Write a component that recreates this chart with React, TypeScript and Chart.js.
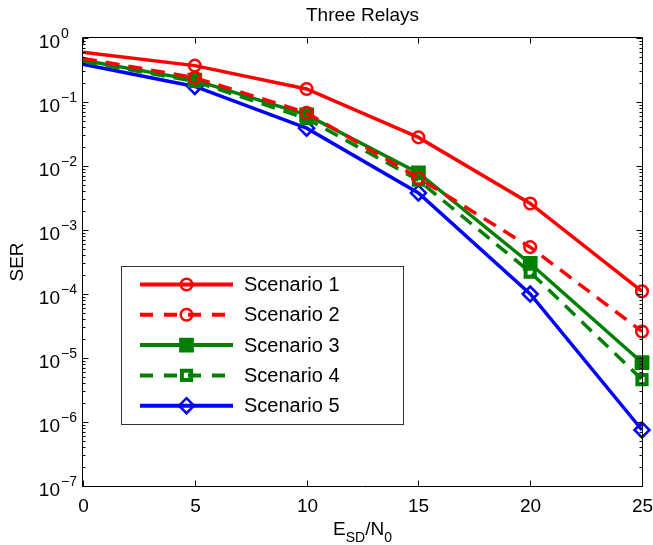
import React, { useEffect, useRef } from 'react';
import { Chart, registerables } from 'chart.js';

Chart.register(...registerables);

// ---- data ----
const snrDb = [0, 5, 10, 15, 20, 25];
const scenario1 = [0.6, 0.37, 0.16, 0.028, 0.0026, 1.1e-4];
const scenario2 = [0.48, 0.24, 0.068, 0.0065, 5.4e-4, 2.6e-5];
const scenario3 = [0.45, 0.22, 0.063, 0.0078, 3.0e-4, 8.5e-6];
const scenario4 = [0.43, 0.21, 0.055, 0.006, 2.2e-4, 4.6e-6];
const scenario5 = [0.39, 0.175, 0.039, 0.0038, 1.0e-4, 7.5e-7];
const seriesNames = ['Scenario 1', 'Scenario 2', 'Scenario 3', 'Scenario 4', 'Scenario 5'];
const xTickValues = [0, 5, 10, 15, 20, 25];
const yExponents = [0, -1, -2, -3, -4, -5, -6, -7];
const titleText = 'Three Relays';
const yLabelText = 'SER';

const FONT = '"Liberation Sans", Arial, Helvetica, sans-serif';
const RED = '#ff0000';
const GREEN = '#008000';
const BLUE = '#0000ff';
const DASH = [14, 9];

type Style = {
  color: string;
  dash: number[];
  point: 'circle' | 'rect' | 'rectRot';
  radius: number;
  pbw: number;
  filled: boolean;
};

const styles: Style[] = [
  { color: RED, dash: [], point: 'circle', radius: 5.8, pbw: 2.5, filled: false },
  { color: RED, dash: DASH, point: 'circle', radius: 5.8, pbw: 2.5, filled: false },
  { color: GREEN, dash: [], point: 'rect', radius: 9, pbw: 2, filled: true },
  { color: GREEN, dash: DASH, point: 'rect', radius: 6.5, pbw: 4, filled: false },
  { color: BLUE, dash: [], point: 'rectRot', radius: 7.5, pbw: 2.5, filled: false },
];

const seriesValues = [scenario1, scenario2, scenario3, scenario4, scenario5];

function drawMarker(ctx: CanvasRenderingContext2D, s: Style, x: number, y: number) {
  ctx.save();
  ctx.beginPath();
  ctx.setLineDash([]);
  ctx.lineWidth = s.pbw;
  ctx.strokeStyle = s.color;
  ctx.fillStyle = s.filled ? s.color : '#ffffff';
  if (s.point === 'circle') {
    ctx.arc(x, y, s.radius, 0, Math.PI * 2);
  } else if (s.point === 'rect') {
    const h = Math.SQRT1_2 * s.radius;
    ctx.rect(x - h, y - h, 2 * h, 2 * h);
  } else {
    ctx.moveTo(x, y - s.radius);
    ctx.lineTo(x + s.radius, y);
    ctx.lineTo(x, y + s.radius);
    ctx.lineTo(x - s.radius, y);
    ctx.closePath();
  }
  if (s.filled) ctx.fill();
  ctx.stroke();
  ctx.restore();
}

const matlabPlugin = {
  id: 'matlabLook',
  beforeDraw(chart: any) {
    const ctx = chart.ctx as CanvasRenderingContext2D;
    ctx.save();
    ctx.fillStyle = '#ffffff';
    ctx.fillRect(0, 0, chart.width, chart.height);
    ctx.restore();
  },
  afterDatasetsDraw(chart: any) {
    const ctx = chart.ctx as CanvasRenderingContext2D;
    const a = chart.chartArea;
    const xs = chart.scales.x;
    const ys = chart.scales.y;
    ctx.save();
    ctx.strokeStyle = '#000';
    ctx.fillStyle = '#000';
    ctx.lineWidth = 1;
    ctx.setLineDash([]);

    const L = Math.round(a.left) - 0.5;
    const R = Math.round(a.right) + 0.5;
    const T = Math.round(a.top) - 0.5;
    const B = Math.round(a.bottom) + 0.5;

    // box
    ctx.beginPath();
    ctx.rect(L, T, R - L, B - T);
    ctx.stroke();

    // x ticks
    ctx.font = `19px ${FONT}`;
    ctx.textAlign = 'center';
    ctx.textBaseline = 'alphabetic';
    for (const v of xTickValues) {
      const px = Math.round(xs.getPixelForValue(v)) + 0.5;
      ctx.beginPath();
      ctx.moveTo(px, B);
      ctx.lineTo(px, B - 6);
      ctx.moveTo(px, T);
      ctx.lineTo(px, T + 6);
      ctx.stroke();
      ctx.fillText(String(v), px, 512);
    }

    // y ticks (log)
    for (const e of yExponents) {
      const py = Math.round(ys.getPixelForValue(Math.pow(10, e))) + 0.5;
      ctx.beginPath();
      ctx.moveTo(L, py);
      ctx.lineTo(L + 6, py);
      ctx.moveTo(R, py);
      ctx.lineTo(R - 6, py);
      ctx.stroke();
      if (e < 0) {
        for (let m = 2; m <= 9; m++) {
          const pm = Math.round(ys.getPixelForValue(m * Math.pow(10, e))) + 0.5;
          ctx.beginPath();
          ctx.moveTo(L, pm);
          ctx.lineTo(L + 3, pm);
          ctx.moveTo(R, pm);
          ctx.lineTo(R - 3, pm);
          ctx.stroke();
        }
      }
      // label 10^e
      ctx.font = `19px ${FONT}`;
      ctx.textAlign = 'right';
      ctx.fillText('10', 60, py + 9);
      ctx.font = `14px ${FONT}`;
      ctx.textAlign = 'left';
      ctx.fillText(e < 0 ? '\u2212' + String(-e) : String(e), 61, py - 1);
    }

    // title
    ctx.font = `19px ${FONT}`;
    ctx.textAlign = 'center';
    ctx.fillText(titleText, (a.left + a.right) / 2, 21);

    // y label
    ctx.save();
    ctx.translate(23, (a.top + a.bottom) / 2);
    ctx.rotate(-Math.PI / 2);
    ctx.textAlign = 'center';
    ctx.fillText(yLabelText, 0, 0);
    ctx.restore();

    // x label E_SD / N_0
    const parts: [string, number, number][] = [
      ['E', 19, 0],
      ['SD', 14, 7],
      ['/N', 19, 0],
      ['0', 14, 7],
    ];
    let total = 0;
    for (const [t, f] of parts) {
      ctx.font = `${f}px ${FONT}`;
      total += ctx.measureText(t).width;
    }
    let cx = (a.left + a.right) / 2 - total / 2;
    ctx.textAlign = 'left';
    for (const [t, f, dy] of parts) {
      ctx.font = `${f}px ${FONT}`;
      ctx.fillText(t, cx, 535 + dy);
      cx += ctx.measureText(t).width;
    }

    // legend
    const lx = 121.5, ly = 266.5, lw = 282, lh = 158;
    ctx.fillStyle = '#ffffff';
    ctx.fillRect(lx, ly, lw, lh);
    ctx.strokeStyle = '#333';
    ctx.lineWidth = 1;
    ctx.strokeRect(lx, ly, lw, lh);
    for (let i = 0; i < seriesNames.length; i++) {
      const s = styles[i];
      const y = 284.5 + i * 30.3;
      ctx.save();
      ctx.strokeStyle = s.color;
      ctx.lineWidth = 4;
      ctx.setLineDash(s.dash.length ? [13, 11] : []);
      ctx.beginPath();
      ctx.moveTo(140, y);
      ctx.lineTo(233, y);
      ctx.stroke();
      ctx.restore();
      drawMarker(ctx, s, 186.5, y);
      ctx.fillStyle = '#000';
      ctx.font = `20px ${FONT}`;
      ctx.textAlign = 'left';
      ctx.textBaseline = 'middle';
      ctx.fillText(seriesNames[i], 244, y + 1);
      ctx.textBaseline = 'alphabetic';
    }
    ctx.restore();
  },
};

export default function App() {
  const ref = useRef<HTMLCanvasElement>(null);
  useEffect(() => {
    if (!ref.current) return;
    const chart = new Chart(ref.current, {
      type: 'line',
      data: {
        datasets: seriesValues.map((vals, i) => {
          const s = styles[i];
          return {
            label: seriesNames[i],
            data: snrDb.map((x, j) => ({ x, y: vals[j] })),
            borderColor: s.color,
            borderWidth: 3.5,
            borderDash: s.dash,
            pointStyle: s.point,
            pointRadius: snrDb.map((x) => (x === 0 ? 0 : s.radius)),
            pointBorderWidth: snrDb.map((x) => (x === 0 ? 0 : s.pbw)),
            pointBorderColor: s.color,
            pointBackgroundColor: s.filled ? s.color : 'rgba(0,0,0,0)',
            fill: false,
            tension: 0,
            clip: false as any,
          };
        }),
      },
      options: {
        animation: false,
        responsive: false,
        layout: { padding: { left: 83, right: 10, top: 38, bottom: 59 } },
        plugins: {
          legend: { display: false },
          tooltip: { enabled: false },
          title: { display: false },
        },
        scales: {
          x: { type: 'linear', min: 0, max: 25, display: false },
          y: { type: 'logarithmic', min: 1e-7, max: 1, display: false },
        },
      },
      plugins: [matlabPlugin],
    });
    return () => chart.destroy();
  }, []);
  return (
    <div style={{ position: 'fixed', left: 0, top: 0, width: 653, height: 545 }}>
      <canvas ref={ref} width={653} height={545} style={{ display: 'block' }} />
    </div>
  );
}
